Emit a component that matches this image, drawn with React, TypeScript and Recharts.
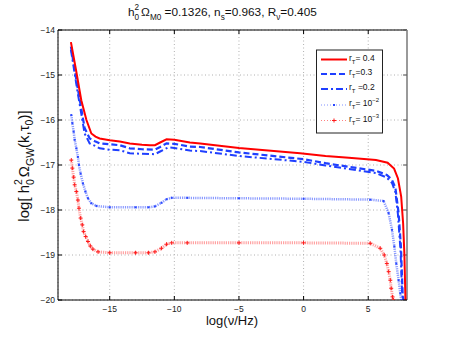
import React from "react";
import { LineChart, Line, XAxis, YAxis, CartesianGrid, ReferenceLine } from "recharts";

// r_T = 0.4 (red solid)
const r04X = [-18, -17.6, -17.2, -16.8, -16.42, -16.1, -15.78, -15, -14.22, -13.45, -12.5, -11.9, -11.5, -11.1, -10.6, -10, -8.8, -8, -5, -0.27, 1.7, 3.5, 5.6, 6.5, 7.0, 7.3, 7.55, 7.7, 7.8, 7.88];
const r04Y = [-14.27, -14.9, -15.56, -16.0, -16.3, -16.37, -16.41, -16.45, -16.48, -16.52, -16.55, -16.56, -16.56, -16.5, -16.43, -16.44, -16.5, -16.52, -16.62, -16.74, -16.8, -16.84, -16.89, -16.95, -17.08, -17.3, -17.7, -18.3, -19.0, -20];

// r_T = 0.3 (blue dashed)
const r03X = [-18, -17.5, -16.94, -16.55, -16.1, -15.78, -15, -14.22, -13.45, -12.5, -11.5, -11.1, -10.6, -10, -8.8, -8, -5, 0, 1.7, 3.5, 5.6, 6.44, 6.84, 7.1, 7.35, 7.53, 7.66, 7.72];
const r03Y = [-14.37, -15.25, -16.18, -16.41, -16.48, -16.52, -16.54, -16.56, -16.63, -16.65, -16.66, -16.6, -16.52, -16.53, -16.59, -16.6, -16.72, -16.87, -16.96, -17.04, -17.13, -17.22, -17.33, -17.5, -18.07, -18.81, -19.85, -20];

// r_T = 0.2 (blue dash-dot)
const r02X = [-18, -17.5, -16.94, -16.55, -16.1, -15.78, -15, -14.22, -13.45, -12.5, -11.5, -11.1, -10.48, -10, -8.8, -8, -5, 0, 1.7, 3.5, 5.6, 6.44, 6.84, 7.1, 7.3, 7.5, 7.62, 7.7];
const r02Y = [-14.44, -15.35, -16.3, -16.52, -16.58, -16.63, -16.66, -16.67, -16.74, -16.75, -16.76, -16.7, -16.61, -16.62, -16.68, -16.69, -16.8, -16.93, -17.01, -17.09, -17.18, -17.28, -17.4, -17.6, -18.1, -18.9, -19.85, -20];

// r_T = 1e-2 (blue dots)
const r2X = [-17.97, -17.89, -17.79, -17.71, -17.58, -17.46, -17.38, -17.25, -17.07, -16.88, -16.68, -16.42, -16.03, -15, -13, -12, -11.5, -11, -10.6, -10.2, -9, -5, 0, 5.16, 6.19, 6.58, 6.84, 7.02, 7.17, 7.35, 7.48, 7.55];
const r2Y = [-15.89, -16.07, -16.26, -16.44, -16.63, -16.82, -17.0, -17.19, -17.41, -17.59, -17.74, -17.85, -17.91, -17.94, -17.94, -17.94, -17.92, -17.84, -17.76, -17.73, -17.73, -17.74, -17.75, -17.77, -17.8, -18.07, -18.44, -18.81, -19.19, -19.56, -19.85, -20];

// r_T = 1e-3 (red plus)
const r3X = [-17.97, -17.89, -17.79, -17.71, -17.58, -17.46, -17.38, -17.25, -17.12, -17.02, -16.86, -16.68, -16.5, -16.3, -15.9, -15, -13, -12, -11.5, -11, -10.6, -10.2, -9, -5, 0, 5.16, 5.93, 6.24, 6.44, 6.58, 6.71, 6.78, 6.88, 6.95];
const r3Y = [-16.89, -17.07, -17.27, -17.44, -17.59, -17.78, -17.96, -18.18, -18.33, -18.48, -18.59, -18.7, -18.8, -18.87, -18.93, -18.95, -18.95, -18.95, -18.93, -18.85, -18.76, -18.73, -18.73, -18.73, -18.73, -18.74, -18.85, -19.0, -19.19, -19.37, -19.56, -19.74, -19.93, -20];

const xTicks = [-15, -10, -5, 0, 5];
const yTicks = [-20, -19, -18, -17, -16, -15, -14];

const toPts = (xs: number[], ys: number[]) => xs.map((x, i) => ({ x, y: ys[i] }));

const FONT = "'Liberation Sans', Arial, Helvetica, sans-serif";
const BLUE = "#1f3fff";
const RED = "#ff0000";

const fmt = (v: number) => (v < 0 ? "\u2212" + Math.abs(v) : String(v));

const PlusDot = (p: any) => {
  const { cx, cy, index } = p;
  if (cx == null || cy == null) return <g key={`pe${index}`} />;
  return <path key={`p${index}`} d={`M${cx - 2},${cy}h4M${cx},${cy - 2}v4`} stroke="#ff1a1a" strokeWidth={1} fill="none" />;
};
const SqDot = (p: any) => {
  const { cx, cy, index } = p;
  if (cx == null || cy == null) return <g key={`se${index}`} />;
  return <rect key={`s${index}`} x={cx - 1} y={cy - 1} width={2} height={2} fill="#2a48ff" />;
};

const xTickLen = 4 / 12.9;
const yTickLen = 4 / 45;

export default function App() {
  const legendRows = [
    { y: 59.5, label: ["= 0.4", null] },
    { y: 74, label: ["=0.3", null] },
    { y: 89, label: [" =0.2", null] },
    { y: 105, label: ["= 10", "\u22122"] },
    { y: 120.5, label: ["= 10", "\u22123"] },
  ];
  return (
    <div style={{ position: "absolute", left: 0, top: 0, width: 450, height: 338, background: "#fff" }}>
      <LineChart width={450} height={338} margin={{ top: 30, right: 43, bottom: 0, left: 0 }}>
        <CartesianGrid stroke="#b0b0b0" strokeDasharray="1 2.5" horizontal={true} vertical={true} />
        <XAxis
          dataKey="x"
          type="number"
          domain={[-19, 8]}
          ticks={xTicks}
          allowDataOverflow
          height={38}
          tickSize={0}
          tickMargin={6}
          tickFormatter={fmt}
          tick={{ fontSize: 8.5, fill: "#222", fontFamily: FONT }}
          axisLine={{ stroke: "#000", strokeWidth: 1 }}
        />
        <YAxis
          type="number"
          domain={[-20, -14]}
          ticks={yTicks}
          allowDataOverflow
          width={58}
          tickSize={0}
          tickMargin={3}
          tickFormatter={fmt}
          tick={{ fontSize: 8.5, fill: "#222", fontFamily: FONT }}
          axisLine={{ stroke: "#000", strokeWidth: 1 }}
        />
        <ReferenceLine y={-14} stroke="#000" strokeWidth={1} />
        <ReferenceLine x={8} stroke="#9a9a9a" strokeWidth={2} />
        {xTicks.map((t) => (
          <ReferenceLine key={`xb${t}`} segment={[{ x: t, y: -20 }, { x: t, y: -20 + yTickLen }]} stroke="#000" />
        ))}
        {xTicks.map((t) => (
          <ReferenceLine key={`xt${t}`} segment={[{ x: t, y: -14 }, { x: t, y: -14 - yTickLen }]} stroke="#000" />
        ))}
        {yTicks.map((t) => (
          <ReferenceLine key={`yl${t}`} segment={[{ x: -19, y: t }, { x: -19 + xTickLen, y: t }]} stroke="#000" />
        ))}
        {yTicks.map((t) => (
          <ReferenceLine key={`yr${t}`} segment={[{ x: 8, y: t }, { x: 8 - xTickLen, y: t }]} stroke="#555" />
        ))}
        <Line data={toPts(r3X, r3Y)} dataKey="y" type="linear" stroke="#ff7a7a" strokeOpacity={0.7} strokeWidth={3} strokeDasharray="1.2 1" dot={PlusDot} isAnimationActive={false} />
        <Line data={toPts(r2X, r2Y)} dataKey="y" type="linear" stroke="#5a70ff" strokeOpacity={0.7} strokeWidth={2.5} strokeDasharray="1.2 1" dot={SqDot} isAnimationActive={false} />
        <Line data={toPts(r02X, r02Y)} dataKey="y" type="linear" stroke={BLUE} strokeWidth={2} strokeDasharray="7 3 2 3" dot={false} isAnimationActive={false} />
        <Line data={toPts(r03X, r03Y)} dataKey="y" type="linear" stroke={BLUE} strokeWidth={2.2} strokeDasharray="6 3" dot={false} isAnimationActive={false} />
        <Line data={toPts(r04X, r04Y)} dataKey="y" type="linear" stroke={RED} strokeWidth={2} dot={false} isAnimationActive={false} />
      </LineChart>
      <svg width={450} height={338} style={{ position: "absolute", left: 0, top: 0, pointerEvents: "none" }} fontFamily={FONT}>
        {/* title */}
        <text x={128} y={16} fontSize={11.8} fill="#111">
          h
          <tspan dy={-6} fontSize={8.2}>2</tspan>
          <tspan dx={-4.6} dy={10} fontSize={8.2}>0</tspan>
          <tspan dx={2} dy={-4}>Ω</tspan>
          <tspan dy={4} fontSize={8.2}>M0</tspan>
          <tspan dy={-4}> =0.1326, n</tspan>
          <tspan dy={4} fontSize={8.2}>s</tspan>
          <tspan dy={-4}>=0.963, R</tspan>
          <tspan dy={4} fontSize={8.2}>ν</tspan>
          <tspan dy={-4}>=0.405</tspan>
        </text>
        {/* x label */}
        <text x={232} y={325} textAnchor="middle" fontSize={13} fill="#111">log(ν/Hz)</text>
        {/* y label */}
        <text transform="translate(29,166) rotate(-90)" textAnchor="middle" fontSize={15} fill="#111">
          log[ h
          <tspan dy={-7} fontSize={10.5}>2</tspan>
          <tspan dx={-6} dy={12} fontSize={10.5}>0</tspan>
          <tspan dx={2} dy={-5}>Ω</tspan>
          <tspan dy={5} fontSize={10.5}>GW</tspan>
          <tspan dy={-5}>(k,τ</tspan>
          <tspan dy={4} fontSize={10.5}>0</tspan>
          <tspan dy={-4}>)]</tspan>
        </text>
        {/* legend */}
        <rect x={316.5} y={50} width={66} height={83} fill="#fff" stroke="#222" strokeWidth={1} />
        <line x1={321} x2={347} y1={legendRows[0].y} y2={legendRows[0].y} stroke={RED} strokeWidth={2} />
        <line x1={321} x2={347} y1={legendRows[1].y} y2={legendRows[1].y} stroke={BLUE} strokeWidth={2.2} strokeDasharray="6 3" />
        <line x1={321} x2={347} y1={legendRows[2].y} y2={legendRows[2].y} stroke={BLUE} strokeWidth={2} strokeDasharray="7 3 2 3" />
        <line x1={321} x2={347} y1={legendRows[3].y} y2={legendRows[3].y} stroke="#8090ff" strokeWidth={1} strokeDasharray="1 2" />
        <rect x={333} y={legendRows[3].y - 1} width={2} height={2} fill="#2a48ff" />
        <line x1={321} x2={347} y1={legendRows[4].y} y2={legendRows[4].y} stroke="#ff8080" strokeWidth={1} strokeDasharray="1 2" />
        <path d={`M${332},${legendRows[4].y}h4M${334},${legendRows[4].y - 2}v4`} stroke="#ff1a1a" strokeWidth={1} />
        {legendRows.map((r, i) => (
          <text key={i} x={349} y={r.y + 1} fontSize={8.5} fill="#111">
            r
            <tspan dy={3} fontSize={6}>T</tspan>
            <tspan dy={-3}>{r.label[0]}</tspan>
            {r.label[1] ? <tspan dy={-4} fontSize={6}>{r.label[1]}</tspan> : null}
          </text>
        ))}
      </svg>
    </div>
  );
}
